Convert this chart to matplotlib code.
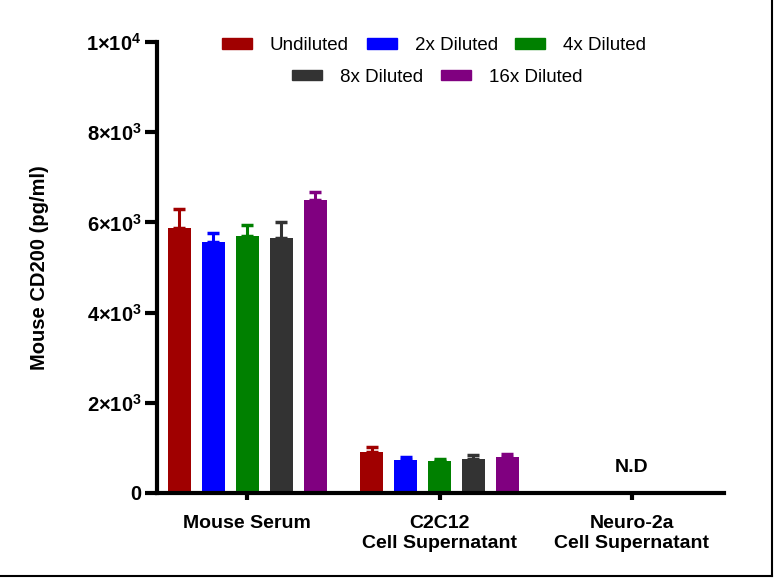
import numpy as np
import matplotlib
matplotlib.use('Agg')
import matplotlib.pyplot as plt
from matplotlib.lines import Line2D
from matplotlib.patches import Patch
from matplotlib.ticker import FixedLocator, FixedFormatter

# 字体设置
plt.rcParams['font.family'] = ['Liberation Sans', 'DejaVu Sans']
plt.rcParams['mathtext.fontset'] = 'custom'
plt.rcParams['mathtext.rm'] = 'Liberation Sans:bold'
plt.rcParams['mathtext.default'] = 'rm'

# 数据
groups = ['Mouse Serum', 'C2C12\nCell Supernatant', 'Neuro-2a\nCell Supernatant']
series = ['Undiluted', '2x Diluted', '4x Diluted', '8x Diluted', '16x Diluted']
colors = ['#A00000', '#0000FF', '#008000', '#333333', '#800080']

undiluted = [5880, 910, 0]
diluted_2x = [5570, 735, 0]
diluted_4x = [5700, 710, 0]
diluted_8x = [5650, 755, 0]
diluted_16x = [6500, 800, 0]
values = [undiluted, diluted_2x, diluted_4x, diluted_8x, diluted_16x]

err_undiluted = [420, 110, 0]
err_2x = [190, 70, 0]
err_4x = [250, 40, 0]
err_8x = [360, 90, 0]
err_16x = [180, 60, 0]
errors = [err_undiluted, err_2x, err_4x, err_8x, err_16x]

yticks = [0, 2000, 4000, 6000, 8000, 10000]
ytick_labels = ['0', '$2{\\times}10^{3}$', '$4{\\times}10^{3}$', '$6{\\times}10^{3}$',
                '$8{\\times}10^{3}$', '$1{\\times}10^{4}$']

fig = plt.figure(figsize=(7.74, 5.78), dpi=100)
ax = fig.add_axes([0.2028, 0.1471, 0.7326, 0.7802])

x = np.arange(len(groups))
width = 0.12
step = 0.1766
for i in range(len(series)):
    pos = x + (i - 2) * step
    vals = np.array(values[i])
    errs = np.array(errors[i])
    mask = vals > 0
    ax.bar(pos[mask], vals[mask], width=width, color=colors[i], zorder=2)
    ax.errorbar(pos[mask], vals[mask], yerr=[np.zeros(mask.sum()), errs[mask]],
                fmt='none', ecolor=colors[i], elinewidth=2.2, capsize=4, capthick=2.5, zorder=1)

ax.text(2, 380, 'N.D', ha='center', va='bottom', fontsize=14, fontweight='bold')

ax.set_xlim(-0.47, 2.48)
ax.set_ylim(0, 10000)
ax.yaxis.set_major_locator(FixedLocator(yticks))
ax.yaxis.set_major_formatter(FixedFormatter(ytick_labels))
ax.set_xticks(x)
ax.set_xticklabels(groups, fontsize=14, fontweight='bold', linespacing=1.25)
for lab in ax.get_yticklabels():
    lab.set_fontsize(14.5)
    lab.set_fontweight('bold')

ax.spines['top'].set_visible(False)
ax.spines['right'].set_visible(False)
ax.spines['left'].set_linewidth(3)
ax.spines['bottom'].set_linewidth(3)
ax.tick_params(axis='y', length=9, width=3, pad=2)
ax.tick_params(axis='x', length=5, width=3, pad=11)

ax.set_ylabel('Mouse CD200 (pg/ml)', fontsize=14.5, fontweight='bold', labelpad=27)

# 图例，分两行
h1 = [Patch(color=colors[i]) for i in range(3)]
h2 = [Patch(color=colors[i]) for i in range(3, 5)]
leg_kw = dict(loc='center', ncol=3, frameon=False, fontsize=13.5, handlelength=1.6,
              handleheight=0.45, handletextpad=0.95, columnspacing=0.95)
leg1 = fig.legend(h1, series[:3], bbox_to_anchor=(0.561, 0.921), **leg_kw)
leg_kw['ncol'] = 2
leg2 = fig.legend(h2, series[3:], bbox_to_anchor=(0.565, 0.866), **leg_kw)

# 右侧和底部边框
fig.add_artist(Line2D([0, 0.998], [0.003, 0.003], color='black', lw=1.5, transform=fig.transFigure))
fig.add_artist(Line2D([0.998, 0.998], [0.003, 1], color='black', lw=1.5, transform=fig.transFigure))

fig.savefig('out.png', dpi=100)
